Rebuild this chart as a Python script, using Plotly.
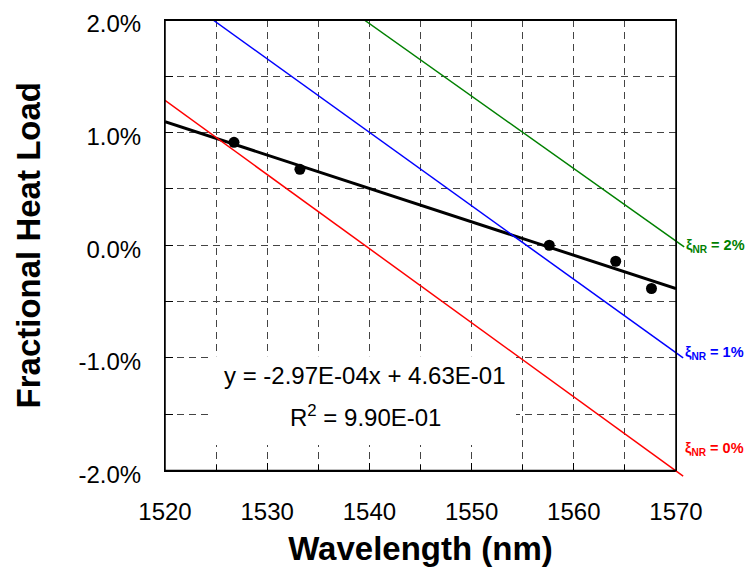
import numpy as np
import plotly.graph_objects as go

# ---------------- data ----------------
wavelength_ticks = [1520, 1530, 1540, 1550, 1560, 1570]
wavelength_ticktext = ["1520", "1530", "1540", "1550", "1560", "1570"]
load_ticks = [-0.02, -0.01, 0.0, 0.01, 0.02]
load_ticktext = ["-2.0%", "-1.0%", "0.0%", "1.0%", "2.0%"]

# measured fractional heat load
meas_wl = [1526.75, 1533.2, 1557.6, 1564.1, 1567.6]
meas_load = [0.00914, 0.00674, 0.0000, -0.00142, -0.00384]

# linear trendline span
fit_wl = [1520.0, 1570.0]

# model lines for different non-radiative fractions
nr0_wl = [1520.0, 1570.7]
nr0_load = [0.01286, -0.0205]
nr1_wl = [1524.7, 1570.7]
nr1_load = [0.0200, -0.0100]
nr2_wl = [1539.5, 1570.8]
nr2_load = [0.0200, -0.00015]

nr_names = ["ξ<sub>NR</sub> = 0%", "ξ<sub>NR</sub> = 1%", "ξ<sub>NR</sub> = 2%"]
nr_colors = ["#FF0000", "#0000FF", "#008000"]
nr_label_load = [-0.0181, -0.0096, -0.0001]

fit_eq_text = "y = -2.97E-04x + 4.63E-01"
fit_r2_text = "R<sup>2</sup> = 9.90E-01"

# ---------------- layout geometry (pixels) ----------------
OFF = 8  # page body margin around the figure
W, H = 753 - OFF, 583 - OFF
PL, PR, PT, PB = 165.0 - OFF, 676.0 - OFF, 19.5 - OFF, 470.5 - OFF   # main plot box
ER, EB = 692.0 - OFF, 480.0 - OFF                                    # extended area for model lines
area_w = ER - PL
area_h = EB - PT

x_main_dom = [0.0, (PR - PL) / area_w]
y_main_dom = [(EB - PB) / area_h, 1.0]
x2_max = 1520 + 50 * area_w / (PR - PL)
y2_min = -0.02 - 0.04 * (EB - PB) / (PB - PT)


def px_x(px):
    return (px - OFF - PL) / area_w


def px_y(py):
    return (EB - (py - OFF)) / area_h


FONT = "Arial, Liberation Sans, sans-serif"

coef = np.polyfit(meas_wl, meas_load, 1)
fit_load = np.polyval(coef, fit_wl)

fig = go.Figure()

fig.add_trace(go.Scatter(x=fit_wl, y=fit_load, mode="lines",
                         line=dict(color="black", width=3),
                         xaxis="x", yaxis="y", showlegend=False))
fig.add_trace(go.Scatter(x=meas_wl, y=meas_load, mode="markers",
                         marker=dict(color="black", size=11),
                         xaxis="x", yaxis="y", showlegend=False))

for wl, ld, col in [(nr0_wl, nr0_load, nr_colors[0]),
                    (nr1_wl, nr1_load, nr_colors[1]),
                    (nr2_wl, nr2_load, nr_colors[2])]:
    fig.add_trace(go.Scatter(x=wl, y=ld, mode="lines",
                             line=dict(color=col, width=1.5),
                             xaxis="x2", yaxis="y2", showlegend=False))

shapes = [
    # white box behind the trendline label
    dict(type="rect", xref="paper", yref="paper",
         x0=px_x(212), x1=px_x(516), y0=px_y(445), y1=px_y(356),
         fillcolor="white", line=dict(width=0), layer="above"),
    # plot-area frame (paper referenced so it is not clipped)
    dict(type="rect", xref="paper", yref="paper",
         x0=x_main_dom[0], x1=x_main_dom[1], y0=y_main_dom[0], y1=y_main_dom[1],
         line=dict(color="black", width=1.5), fillcolor="rgba(0,0,0,0)", layer="above"),
    # top edge drawn explicitly
    dict(type="line", xref="paper", yref="paper",
         x0=x_main_dom[0], x1=x_main_dom[1], y0=y_main_dom[1], y1=y_main_dom[1],
         line=dict(color="black", width=2), layer="above"),
]

annotations = []
annotations.append(dict(xref="paper", yref="paper", x=px_x(365), y=px_y(375),
                        text=fit_eq_text, showarrow=False,
                        font=dict(family=FONT, size=24, color="black"),
                        xanchor="center", yanchor="middle"))
annotations.append(dict(xref="paper", yref="paper", x=px_x(365), y=px_y(416),
                        text=fit_r2_text, showarrow=False,
                        font=dict(family=FONT, size=24, color="black"),
                        xanchor="center", yanchor="middle"))

line_ends = [nr0_wl[-1], nr1_wl[-1], nr2_wl[-1]]
for name, col, xe, ly in zip(nr_names, nr_colors, line_ends, nr_label_load):
    annotations.append(dict(xref="x2", yref="y2", x=xe, y=ly,
                            text="<b>" + name + "</b>", showarrow=False,
                            font=dict(family=FONT, size=14.5, color=col),
                            xanchor="left", yanchor="middle", xshift=0))

fig.update_layout(
    width=W, height=H,
    margin=dict(l=PL, r=W - ER, t=PT, b=H - EB, pad=0, autoexpand=False),
    paper_bgcolor="white", plot_bgcolor="rgba(0,0,0,0)",
    font=dict(family=FONT, color="black"),
    showlegend=False,
    annotations=annotations,
    shapes=shapes,
    xaxis=dict(
        domain=x_main_dom, range=[1520, 1570], anchor="y", automargin=False,
        tickmode="array", tickvals=wavelength_ticks, ticktext=wavelength_ticktext,
        ticks="inside", ticklen=8, tickcolor="black", tickwidth=1,
        ticklabelstandoff=20, ticklabeloverflow="allow",
        tickfont=dict(family=FONT, size=24, color="black"),
        showline=True, linecolor="black", linewidth=1, mirror=True,
        showgrid=True, gridcolor="#444444", gridwidth=1, griddash="7px,5px",
        zeroline=False,
        minor=dict(tickmode="linear", tick0=1520, dtick=5, ticks="inside", ticklen=6,
                   tickcolor="black", showgrid=True, gridcolor="#444444",
                   gridwidth=1, griddash="7px,5px"),
        title=dict(text="<b>Wavelength (nm)</b>", standoff=12,
                   font=dict(family=FONT, size=33, color="black")),
    ),
    yaxis=dict(
        domain=y_main_dom, range=[-0.02, 0.02], anchor="x", automargin=False,
        tickmode="array", tickvals=load_ticks, ticktext=load_ticktext,
        ticks="inside", ticklen=8, tickcolor="black", tickwidth=1,
        ticklabelstandoff=18, ticklabelshift=4, ticklabeloverflow="allow",
        tickfont=dict(family=FONT, size=24, color="black"),
        showline=True, linecolor="black", linewidth=1, mirror=True,
        showgrid=True, gridcolor="#444444", gridwidth=1, griddash="7px,5px",
        zeroline=False,
        minor=dict(tickmode="linear", tick0=0, dtick=0.005, ticks="inside", ticklen=8,
                   tickcolor="black", showgrid=True, gridcolor="#444444",
                   gridwidth=1, griddash="7px,5px"),
        title=dict(text="<b>Fractional Heat Load</b>", standoff=27,
                   font=dict(family=FONT, size=33, color="black")),
    ),
    xaxis2=dict(domain=[0, 1], range=[1520, x2_max], anchor="y2", visible=False,
                showgrid=False, zeroline=False),
    yaxis2=dict(domain=[0, 1], range=[y2_min, 0.02], anchor="x2", visible=False,
                showgrid=False, zeroline=False),
)

fig.write_html("out.html")
